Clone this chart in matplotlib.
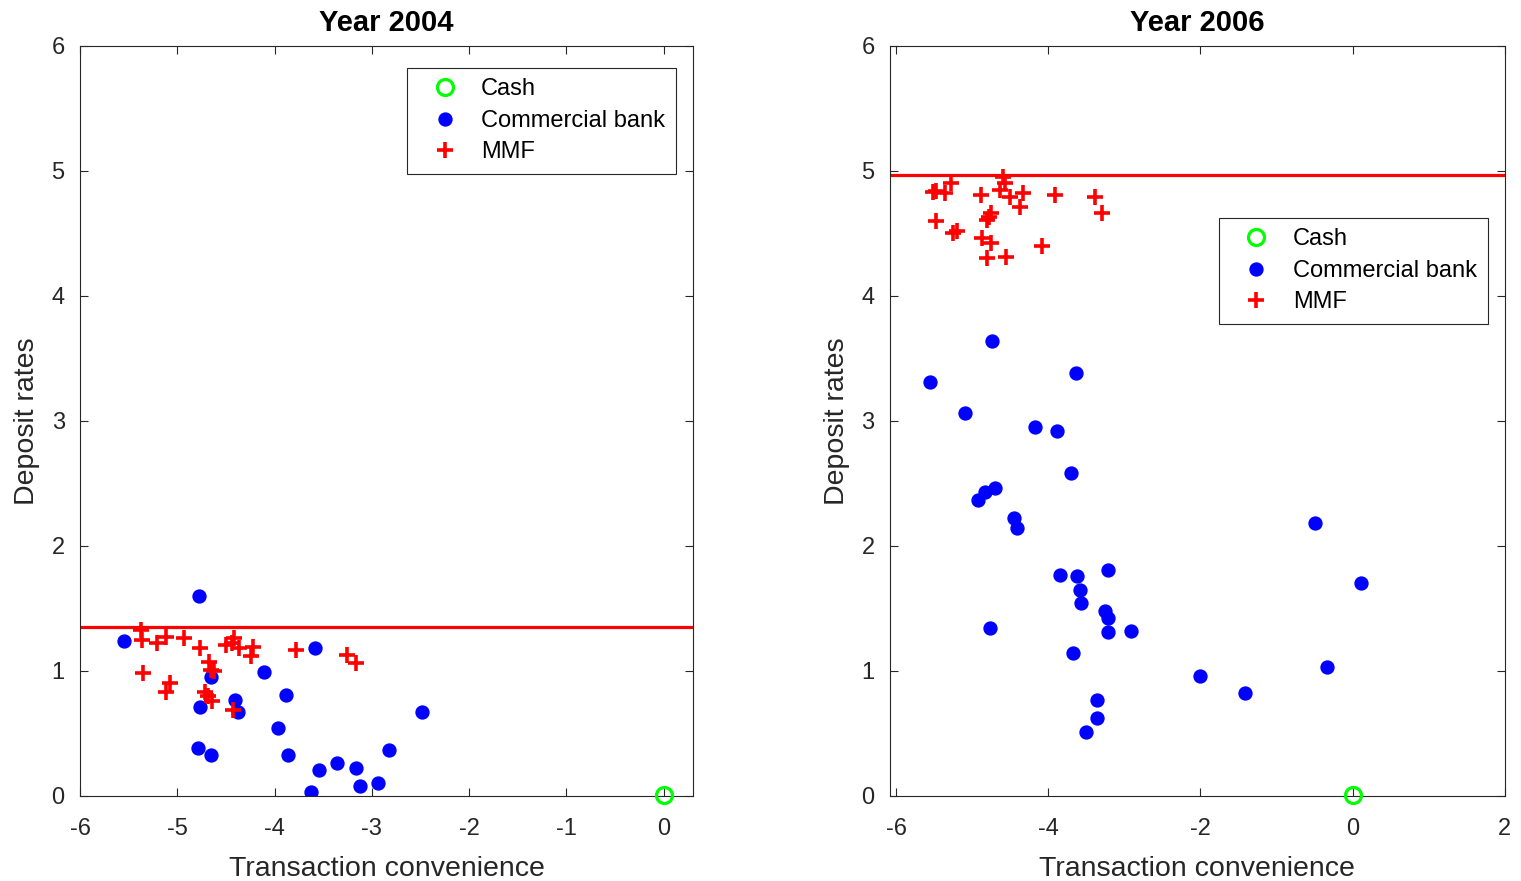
import matplotlib
matplotlib.use("Agg")
import matplotlib.pyplot as plt
import numpy as np

plt.rcParams['font.family'] = ['Liberation Sans', 'DejaVu Sans']

# ---- Year 2004 data ----
bank04_x = [-5.55, -4.78, -3.58, -4.65, -4.11, -4.77, -4.41, -4.38, -3.88, -3.96,
            -4.79, -4.65, -3.86, -3.54, -3.36, -3.16, -2.82, -2.48, -3.63, -3.12, -2.94]
bank04_y = [1.24, 1.60, 1.18, 0.95, 0.99, 0.71, 0.77, 0.67, 0.81, 0.54,
            0.38, 0.33, 0.33, 0.21, 0.26, 0.22, 0.37, 0.67, 0.03, 0.08, 0.10]
mmf04_x = [-5.37, -5.36, -5.21, -5.12, -4.93, -4.77, -4.44, -4.42, -4.37, -4.50,
           -4.22, -4.24, -3.78, -3.26, -3.16, -5.35, -5.07, -5.12, -4.67, -4.65,
           -4.62, -4.72, -4.68, -4.64, -4.43]
mmf04_y = [1.33, 1.25, 1.22, 1.27, 1.26, 1.18, 1.22, 1.26, 1.18, 1.21,
           1.19, 1.12, 1.17, 1.13, 1.06, 0.98, 0.90, 0.83, 1.07, 1.01,
           1.00, 0.83, 0.80, 0.76, 0.69]
line04 = 1.352

# ---- Year 2006 data ----
bank06_x = [-4.74, -5.55, -3.63, -5.09, -4.18, -3.88, -3.70, -4.70, -4.83, -4.92,
            -4.45, -4.41, -0.49, -3.84, -3.62, -3.21, 0.11, -3.58, -3.57, -3.25,
            -3.21, -4.76, -3.22, -2.91, -3.67, -0.34, -2.01, -1.42, -3.36, -3.36, -3.51]
bank06_y = [3.64, 3.31, 3.38, 3.06, 2.95, 2.92, 2.58, 2.46, 2.43, 2.37,
            2.22, 2.14, 2.18, 1.77, 1.76, 1.81, 1.70, 1.65, 1.54, 1.48,
            1.42, 1.34, 1.31, 1.32, 1.14, 1.03, 0.96, 0.82, 0.77, 0.62, 0.51]
mmf06_x = [-5.51, -5.48, -5.36, -5.28, -4.89, -4.59, -4.57, -4.63, -4.50, -4.33,
           -4.37, -3.91, -3.38, -3.29, -5.47, -5.25, -5.20, -4.80, -4.75, -4.87,
           -4.75, -4.80, -4.55, -4.08, -4.78]
mmf06_y = [4.83, 4.84, 4.82, 4.90, 4.81, 4.95, 4.90, 4.85, 4.79, 4.82,
           4.71, 4.81, 4.79, 4.66, 4.60, 4.50, 4.52, 4.61, 4.66, 4.46,
           4.42, 4.30, 4.31, 4.40, 4.63]
line06 = 4.968

cash_x = [0]
cash_y = [0.01]

fig = plt.figure(figsize=(15.21, 8.81), dpi=100)
ax1 = fig.add_axes([0.0526, 0.0965, 0.4030, 0.8513])
ax2 = fig.add_axes([0.5851, 0.0965, 0.4043, 0.8513])

def draw(ax, bx, by, mx, my, line, title, xlim, xticks, leg_anchor):
    ax.axhline(line, color='#ff0000', lw=2.3, zorder=1)
    h1, = ax.plot(cash_x, cash_y, 'o', ls='none', mfc='none', mec='#00ff00', mew=2.3, ms=11.5, zorder=3, clip_on=False)
    h2, = ax.plot(bx, by, 'o', ls='none', color='#0000ff', ms=9.3, zorder=2)
    h3, = ax.plot(mx, my, '+', ls='none', color='#ff0000', ms=11, mew=2.6, zorder=2)
    ax.set_xlim(*xlim)
    ax.set_ylim(0, 6)
    ax.set_xticks(xticks)
    ax.set_yticks(range(0, 7))
    ax.set_xticklabels([str(t) for t in xticks])
    ax.tick_params(direction='in', length=6, width=0.8, labelsize=17, colors='#262626',
                   top=True, right=True)
    ax.tick_params(axis='x', pad=15.5)
    ax.tick_params(axis='y', pad=11)
    for s in ax.spines.values():
        s.set_color('#262626')
        s.set_linewidth(0.8)
    ax.set_title(title, fontsize=21, fontweight='bold', pad=10.5)
    ax.set_xlabel('Transaction convenience', fontsize=20.5, color='#262626', labelpad=12)
    ax.set_ylabel('Deposit rates', fontsize=20.5, color='#262626', labelpad=8)
    leg = ax.legend([h1, h2, h3], ['Cash', 'Commercial bank', 'MMF'], loc='upper right',
                    bbox_to_anchor=leg_anchor, borderaxespad=0, fontsize=17,
                    fancybox=False, framealpha=1, edgecolor='#262626',
                    handletextpad=0.4, borderpad=0.45, labelspacing=0.4, handlelength=2.3)
    leg.get_frame().set_linewidth(0.8)

draw(ax1, bank04_x, bank04_y, mmf04_x, mmf04_y, line04, 'Year 2004',
     (-6, 0.3), [-6, -5, -4, -3, -2, -1, 0], (0.972, 0.971))
draw(ax2, bank06_x, bank06_y, mmf06_x, mmf06_y, line06, 'Year 2006',
     (-6.08, 2), [-6, -4, -2, 0, 2], (0.972, 0.771))

fig.savefig('out.png', dpi=100)
